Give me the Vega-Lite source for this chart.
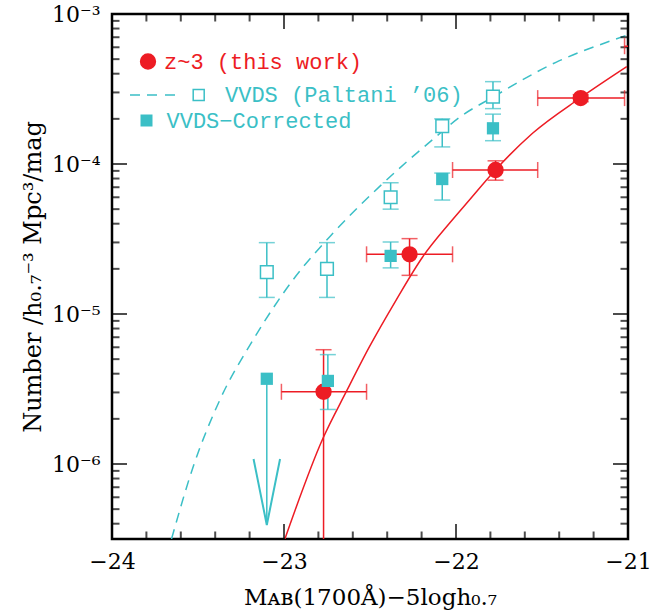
{
  "$schema": "https://vega.github.io/schema/vega-lite/v6.json",
  "width": 516,
  "height": 525,
  "autosize": {"type": "none"},
  "padding": {"left": 112, "top": 14, "right": 36, "bottom": 73},
  "background": "white",
  "view": {"stroke": "black", "strokeWidth": 2.5},
  "config": {
    "axis": {"labelFont": "DejaVu Serif", "titleFont": "DejaVu Serif", "labelColor": "black", "titleColor": "black", "ticks": false, "tickSize": 0, "domain": false, "grid": false, "labelFlush": false, "labelOverlap": false},
    "legend": {"orient": "none", "title": null, "padding": 0, "labelFont": "Liberation Mono", "labelFontSize": 22, "labelLimit": 0, "labelColor": "#3bbfc6", "symbolStrokeWidth": 1.5}
  },
  "datasets": {
    "pts": [
      {"series": "z~3 (this work)", "M": -21.275, "phi": 0.000275, "Mlo": -21.525, "Mhi": -21.02, "lo": 0.00026, "hi": 0.00029},
      {"series": "z~3 (this work)", "M": -21.77, "phi": 0.0000912, "Mlo": -22.02, "Mhi": -21.525, "lo": 0.000078, "hi": 0.000105},
      {"series": "z~3 (this work)", "M": -22.27, "phi": 0.000025, "Mlo": -22.52, "Mhi": -22.02, "lo": 0.0000181, "hi": 0.0000318},
      {"series": "z~3 (this work)", "M": -22.77, "phi": 0.00000303, "Mlo": -23.015, "Mhi": -22.52, "lo": 0.0000001, "hi": 0.00000578},
      {"series": "z~3 (this work)", "M": -20.77, "phi": 0.00061, "Mlo": -21.02, "Mhi": -20.52, "lo": 0.00058, "hi": 0.00064},
      {"series": "VVDS (Paltani ’06)", "M": -23.1, "phi": 0.000019, "lo": 0.0000129, "hi": 0.0000299},
      {"series": "VVDS (Paltani ’06)", "M": -22.75, "phi": 0.00002, "lo": 0.0000129, "hi": 0.0000299},
      {"series": "VVDS (Paltani ’06)", "M": -22.38, "phi": 0.00006, "lo": 0.00005, "hi": 0.000075},
      {"series": "VVDS (Paltani ’06)", "M": -22.08, "phi": 0.000179, "lo": 0.00013, "hi": 0.0002},
      {"series": "VVDS (Paltani ’06)", "M": -21.785, "phi": 0.000281, "lo": 0.000234, "hi": 0.000354},
      {"series": "VVDS−Corrected", "M": -23.1, "phi": 0.0000037, "lo": 0.000000392, "hi": 0.0000037, "limit": true},
      {"series": "VVDS−Corrected", "M": -22.745, "phi": 0.00000358, "lo": 0.00000231, "hi": 0.00000536},
      {"series": "VVDS−Corrected", "M": -22.38, "phi": 0.0000244, "lo": 0.0000203, "hi": 0.0000302},
      {"series": "VVDS−Corrected", "M": -22.08, "phi": 0.0000794, "lo": 0.0000575, "hi": 0.000087},
      {"series": "VVDS−Corrected", "M": -21.785, "phi": 0.000173, "lo": 0.000143, "hi": 0.000215}
    ],
    "curves": [
      {"curve": "z3", "M": -22.995, "phi": 3.162e-7},
      {"curve": "z3", "M": -22.774, "phi": 1.479e-6},
      {"curve": "z3", "M": -22.638, "phi": 3.034e-6},
      {"curve": "z3", "M": -22.503, "phi": 6.053e-6},
      {"curve": "z3", "M": -22.348, "phi": 1.239e-5},
      {"curve": "z3", "M": -22.193, "phi": 2.41e-5},
      {"curve": "z3", "M": -22.038, "phi": 4.027e-5},
      {"curve": "z3", "M": -21.922, "phi": 5.754e-5},
      {"curve": "z3", "M": -21.771, "phi": 9.12e-5},
      {"curve": "z3", "M": -21.555, "phi": 1.603e-4},
      {"curve": "z3", "M": -21.278, "phi": 2.754e-4},
      {"curve": "z3", "M": -21.007, "phi": 4.457e-4},
      {"curve": "vvds", "M": -23.654, "phi": 3.162e-7},
      {"curve": "vvds", "M": -23.528, "phi": 9.594e-7},
      {"curve": "vvds", "M": -23.373, "phi": 2.673e-6},
      {"curve": "vvds", "M": -23.18, "phi": 6.714e-6},
      {"curve": "vvds", "M": -22.948, "phi": 1.687e-5},
      {"curve": "vvds", "M": -22.716, "phi": 3.451e-5},
      {"curve": "vvds", "M": -22.445, "phi": 7.063e-5},
      {"curve": "vvds", "M": -22.116, "phi": 1.521e-4},
      {"curve": "vvds", "M": -21.98, "phi": 2.046e-4},
      {"curve": "vvds", "M": -21.787, "phi": 2.786e-4},
      {"curve": "vvds", "M": -21.419, "phi": 4.764e-4},
      {"curve": "vvds", "M": -21.071, "phi": 6.808e-4},
      {"curve": "vvds", "M": -21.0, "phi": 7.278e-4}
    ],
    "arrow": [
      {"M": -23.177, "phi": 0.00000108},
      {"M": -23.1, "phi": 0.000000392},
      {"M": -23.023, "phi": 0.00000108}
    ],
    "xmajor": [{"M": -24}, {"M": -23}, {"M": -22}, {"M": -21}],
    "xminor": [{"M": -23.8}, {"M": -23.6}, {"M": -23.4}, {"M": -23.2}, {"M": -22.8}, {"M": -22.6}, {"M": -22.4}, {"M": -22.2}, {"M": -21.8}, {"M": -21.6}, {"M": -21.4}, {"M": -21.2}],
    "ymajor": [{"phi": 1e-6}, {"phi": 1e-5}, {"phi": 1e-4}, {"phi": 1e-3}],
    "yminor": [{"phi": 4e-7}, {"phi": 5e-7}, {"phi": 6e-7}, {"phi": 7e-7}, {"phi": 8e-7}, {"phi": 9e-7}, {"phi": 2e-6}, {"phi": 3e-6}, {"phi": 4e-6}, {"phi": 5e-6}, {"phi": 6e-6}, {"phi": 7e-6}, {"phi": 8e-6}, {"phi": 9e-6}, {"phi": 2e-5}, {"phi": 3e-5}, {"phi": 4e-5}, {"phi": 5e-5}, {"phi": 6e-5}, {"phi": 7e-5}, {"phi": 8e-5}, {"phi": 9e-5}, {"phi": 2e-4}, {"phi": 3e-4}, {"phi": 4e-4}, {"phi": 5e-4}, {"phi": 6e-4}, {"phi": 7e-4}, {"phi": 8e-4}, {"phi": 9e-4}]
  },
  "layer": [
    {
      "data": {"name": "curves"},
      "transform": [{"filter": "datum.curve === 'z3'"}],
      "mark": {"type": "line", "color": "#ed1c24", "strokeWidth": 1.5, "clip": true, "interpolate": "monotone"},
      "encoding": {
        "x": {
          "field": "M", "type": "quantitative",
          "scale": {"domain": [-24, -21], "nice": false, "zero": false},
          "axis": {
            "orient": "bottom",
            "values": [-24, -23, -22, -21],
            "labelExpr": "'−' + abs(datum.value)",
            "labelFontSize": 22, "labelPadding": 12,
            "title": "Mᴀʙ(1700Å)−5logh₀.₇", "titleFontSize": 23, "titleFontWeight": "normal", "titlePadding": 14
          }
        },
        "y": {
          "field": "phi", "type": "quantitative",
          "scale": {"type": "log", "domain": [3.1623e-7, 0.001], "nice": false},
          "axis": {
            "orient": "left",
            "values": [1e-6, 1e-5, 1e-4, 1e-3],
            "labelExpr": "'10' + (round(log(datum.value)/LN10) == -3 ? '⁻³' : round(log(datum.value)/LN10) == -4 ? '⁻⁴' : round(log(datum.value)/LN10) == -5 ? '⁻⁵' : '⁻⁶')",
            "labelFontSize": 22, "labelPadding": 12,
            "title": "Number /h₀.₇⁻³ Mpc³/mag", "titleFontSize": 24, "titleFontWeight": "normal", "titlePadding": 6
          }
        }
      }
    },
    {
      "data": {"name": "curves"},
      "transform": [{"filter": "datum.curve === 'vvds'"}],
      "mark": {"type": "line", "color": "#3bbfc6", "strokeWidth": 1.5, "strokeDash": [10, 7], "clip": true, "interpolate": "monotone"},
      "encoding": {
        "x": {"field": "M", "type": "quantitative"},
        "y": {"field": "phi", "type": "quantitative"}
      }
    },
    {
      "data": {"name": "xmajor"},
      "mark": {"type": "tick", "orient": "vertical", "size": 30, "thickness": 2, "color": "black", "clip": true},
      "encoding": {"x": {"field": "M", "type": "quantitative"}, "y": {"datum": 3.1623e-7, "type": "quantitative"}}
    },
    {
      "data": {"name": "xmajor"},
      "mark": {"type": "tick", "orient": "vertical", "size": 30, "thickness": 2, "color": "black", "clip": true},
      "encoding": {"x": {"field": "M", "type": "quantitative"}, "y": {"datum": 0.001, "type": "quantitative"}}
    },
    {
      "data": {"name": "xminor"},
      "mark": {"type": "tick", "orient": "vertical", "size": 15, "thickness": 2, "color": "black", "clip": true},
      "encoding": {"x": {"field": "M", "type": "quantitative"}, "y": {"datum": 3.1623e-7, "type": "quantitative"}}
    },
    {
      "data": {"name": "xminor"},
      "mark": {"type": "tick", "orient": "vertical", "size": 15, "thickness": 2, "color": "black", "clip": true},
      "encoding": {"x": {"field": "M", "type": "quantitative"}, "y": {"datum": 0.001, "type": "quantitative"}}
    },
    {
      "data": {"name": "ymajor"},
      "mark": {"type": "tick", "orient": "horizontal", "size": 30, "thickness": 2, "color": "black", "clip": true},
      "encoding": {"y": {"field": "phi", "type": "quantitative"}, "x": {"datum": -24, "type": "quantitative"}}
    },
    {
      "data": {"name": "ymajor"},
      "mark": {"type": "tick", "orient": "horizontal", "size": 30, "thickness": 2, "color": "black", "clip": true},
      "encoding": {"y": {"field": "phi", "type": "quantitative"}, "x": {"datum": -21, "type": "quantitative"}}
    },
    {
      "data": {"name": "yminor"},
      "mark": {"type": "tick", "orient": "horizontal", "size": 15, "thickness": 2, "color": "black", "clip": true},
      "encoding": {"y": {"field": "phi", "type": "quantitative"}, "x": {"datum": -24, "type": "quantitative"}}
    },
    {
      "data": {"name": "yminor"},
      "mark": {"type": "tick", "orient": "horizontal", "size": 15, "thickness": 2, "color": "black", "clip": true},
      "encoding": {"y": {"field": "phi", "type": "quantitative"}, "x": {"datum": -21, "type": "quantitative"}}
    },
    {
      "data": {"name": "pts"},
      "mark": {"type": "rule", "strokeWidth": 1.5, "clip": true},
      "encoding": {
        "x": {"field": "M", "type": "quantitative"},
        "y": {"field": "lo", "type": "quantitative"},
        "y2": {"field": "hi"},
        "color": {"condition": {"test": "datum.series === 'z~3 (this work)'", "value": "#ed1c24"}, "value": "#3bbfc6"}
      }
    },
    {
      "data": {"name": "pts"},
      "transform": [{"filter": "datum.Mlo != null"}],
      "mark": {"type": "rule", "strokeWidth": 1.5, "clip": true, "color": "#ed1c24"},
      "encoding": {
        "x": {"field": "Mlo", "type": "quantitative"},
        "x2": {"field": "Mhi"},
        "y": {"field": "phi", "type": "quantitative"}
      }
    },
    {
      "data": {"name": "pts"},
      "transform": [{"filter": "!datum.limit"}, {"fold": ["lo", "hi"], "as": ["end", "yv"]}],
      "mark": {"type": "tick", "orient": "horizontal", "size": 16, "thickness": 1.5, "clip": true},
      "encoding": {
        "x": {"field": "M", "type": "quantitative"},
        "y": {"field": "yv", "type": "quantitative"},
        "color": {"condition": {"test": "datum.series === 'z~3 (this work)'", "value": "#ed1c24"}, "value": "#3bbfc6"}
      }
    },
    {
      "data": {"name": "pts"},
      "transform": [{"filter": "datum.Mlo != null"}, {"fold": ["Mlo", "Mhi"], "as": ["end", "xv"]}],
      "mark": {"type": "tick", "orient": "vertical", "size": 16, "thickness": 1.5, "clip": true, "color": "#ed1c24"},
      "encoding": {
        "x": {"field": "xv", "type": "quantitative"},
        "y": {"field": "phi", "type": "quantitative"}
      }
    },
    {
      "data": {"name": "arrow"},
      "mark": {"type": "line", "color": "#3bbfc6", "strokeWidth": 2, "clip": true},
      "encoding": {
        "x": {"field": "M", "type": "quantitative"},
        "y": {"field": "phi", "type": "quantitative"}
      }
    },
    {
      "data": {"name": "pts"},
      "transform": [{"filter": "datum.series === 'z~3 (this work)'"}],
      "mark": {"type": "point", "shape": "circle", "size": 220, "filled": true, "opacity": 1, "stroke": "#ed1c24", "strokeWidth": 1.5, "clip": true},
      "encoding": {
        "x": {"field": "M", "type": "quantitative"},
        "y": {"field": "phi", "type": "quantitative"},
        "fill": {
          "field": "series", "type": "nominal",
          "scale": {"domain": ["z~3 (this work)"], "range": ["#ed1c24"]},
          "legend": {"legendX": 25, "legendY": 36.5, "labelColor": "#ed1c24", "labelOffset": 5, "symbolType": "circle", "symbolSize": 219, "symbolStrokeColor": "#ed1c24"}
        }
      }
    },
    {
      "data": {"name": "pts"},
      "transform": [{"filter": "datum.series === 'VVDS (Paltani ’06)'"}],
      "mark": {"type": "point", "shape": "square", "size": 160, "filled": false, "fill": "white", "opacity": 1, "strokeWidth": 1.5, "clip": true},
      "encoding": {
        "x": {"field": "M", "type": "quantitative"},
        "y": {"field": "phi", "type": "quantitative"},
        "stroke": {
          "field": "series", "type": "nominal",
          "scale": {"domain": ["VVDS (Paltani ’06)"], "range": ["#3bbfc6"]},
          "legend": {"legendX": 24, "legendY": 70, "labelColor": "#3bbfc6", "labelOffset": 67, "symbolType": "M-3.4,0H-1.4M0,0H2M3.6,0H5.6M9.24,-1.1H11.44V1.1H9.24Z", "symbolSize": 100, "symbolFillColor": "white"}
        }
      }
    },
    {
      "data": {"name": "pts"},
      "transform": [{"filter": "datum.series === 'VVDS−Corrected'"}],
      "mark": {"type": "point", "size": 150, "filled": true, "color": "#3bbfc6", "opacity": 1, "strokeWidth": 1.5, "clip": true},
      "encoding": {
        "x": {"field": "M", "type": "quantitative"},
        "y": {"field": "phi", "type": "quantitative"},
        "shape": {
          "field": "series", "type": "nominal",
          "scale": {"domain": ["VVDS−Corrected"], "range": ["square"]},
          "legend": {"legendX": 23.5, "legendY": 95.5, "labelColor": "#3bbfc6", "labelOffset": 9, "symbolSize": 144, "symbolFillColor": "#3bbfc6", "symbolStrokeColor": "#3bbfc6"}
        }
      }
    }
  ]
}
